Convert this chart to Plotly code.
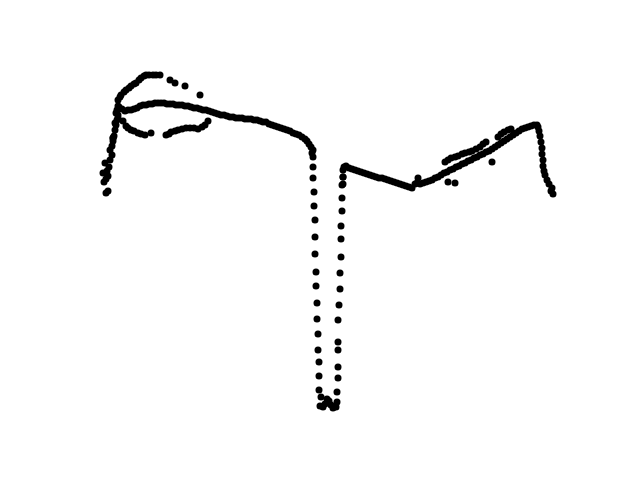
import plotly.graph_objects as go

tail_x = [106, 108, 104, 106, 108, 103, 107, 109, 105, 110, 112, 110, 112, 113, 113, 114, 115, 116, 117, 118, 117, 118]
tail_y = [193, 191, 182, 179, 176, 173, 171, 167, 163, 160, 155, 150, 146, 141, 138, 136, 130, 125, 120, 115, 110, 106]

upper_arc_x = [118, 120, 121, 124, 126, 129, 131, 134, 136, 139, 141, 144, 146, 149, 153, 156, 160, 170, 175, 185, 200]
upper_arc_y = [100, 97, 95, 92, 90, 88, 86, 84, 83, 80, 78, 76, 75, 75, 75, 75, 75, 80, 83, 86, 95]

main_left_x = [119, 122, 125, 128, 131, 134, 137, 140, 143, 146, 149, 152, 155, 158, 161, 164, 167, 170, 173, 176,
               179, 182, 185, 188, 191, 194, 197, 200, 203, 206, 209, 212, 215, 218, 221, 224, 227, 230, 233, 236,
               239, 242, 245, 248, 251, 254, 257, 260, 263, 266, 269, 272, 275, 278, 281, 284, 287, 290, 293, 296,
               299, 302, 305, 307, 309, 311, 313, 312, 313]
main_left_y = [107, 109, 111, 110, 110, 109, 108, 106, 105, 105, 104, 104, 103, 103, 103, 103, 104, 104, 104, 105,
               105, 105, 106, 106, 107, 108, 108, 109, 110, 110, 111, 112, 113, 114, 115, 115, 116, 117, 117, 118,
               118, 118, 119, 119, 119, 120, 120, 121, 122, 122, 124, 125, 126, 127, 128, 129, 130, 131, 133, 134,
               135, 137, 139, 141, 144, 147, 150, 153, 157]

lower_arc_x = [116, 118, 115, 123, 126, 128, 131, 134, 138, 141, 145, 151, 166, 169, 171, 175, 178, 182, 186, 190,
               194, 198, 202, 205, 208]
lower_arc_y = [113, 118, 123, 121, 126, 128, 130, 131, 133, 134, 135, 133, 135, 134, 132, 131, 130, 129, 128, 128,
               128, 129, 127, 125, 121]

drop_x = [313, 313, 314, 314, 315, 315, 315, 316, 316, 317, 317, 318, 318, 319, 319, 319, 321, 320, 323, 325,
          327, 329, 331, 333, 336, 337, 337, 338, 338, 338, 338, 338, 339, 340, 340, 341, 341, 341, 342, 342,
          343, 343, 343, 344]
drop_y = [167, 178, 192, 206, 220, 237, 254, 272, 286, 303, 319, 334, 350, 362, 376, 390, 397, 406, 407, 404,
          399, 401, 405, 408, 407, 402, 392, 378, 367, 350, 342, 320, 305, 289, 273, 257, 239, 226, 211, 198,
          184, 177, 170, 167]

main_right_x = [346, 349, 352, 355, 358, 361, 364, 367, 370, 373, 376, 379, 382, 385, 388, 391, 394, 397, 400, 403,
                406, 409, 412, 415, 417, 418, 420, 423, 426, 429, 432, 435, 438, 441, 444, 447, 450, 453, 456, 459,
                462, 465, 468, 471, 474, 477, 480, 483, 486, 489, 492, 495, 498, 501, 504, 507, 510, 513, 516, 519,
                522, 525, 528, 531, 534, 537, 538, 539, 540, 541, 542, 542, 543, 543, 544, 545, 547, 549, 552, 551, 553]
main_right_y = [166, 168, 169, 170, 171, 172, 173, 174, 175, 176, 177, 178, 178, 179, 180, 181, 182, 183, 184, 185,
                186, 187, 188, 184, 183, 178, 184, 183, 182, 181, 180, 178, 177, 175, 173, 172, 170, 169, 167, 166,
                164, 163, 161, 160, 158, 157, 155, 154, 152, 151, 149, 147, 145, 143, 141, 139, 137, 135, 133, 131,
                129, 128, 127, 126, 125, 125, 127, 131, 136, 142, 148, 154, 160, 166, 171, 175, 180, 184, 188, 191, 194]

upper_branch_x = [445, 448, 451, 455, 458, 462, 465, 469, 472, 476, 480, 483, 486, 498, 501, 504, 508, 511,
                  448, 455, 492, 343, 342, 113]
upper_branch_y = [162, 160, 158, 157, 156, 154, 153, 152, 151, 149, 147, 144, 142, 137, 134, 132, 130, 129,
                  182, 183, 162, 177, 185, 138]

xs = tail_x + upper_arc_x + main_left_x + lower_arc_x + drop_x + main_right_x + upper_branch_x
ys = tail_y + upper_arc_y + main_left_y + lower_arc_y + drop_y + main_right_y + upper_branch_y

fig = go.Figure(go.Scatter(
    x=xs, y=ys, mode="markers",
    marker=dict(size=7, color="black", line=dict(width=0)),
    hoverinfo="skip"
))

fig.update_layout(
    width=640, height=480,
    margin=dict(l=0, r=0, t=0, b=0),
    paper_bgcolor="white", plot_bgcolor="white",
    showlegend=False
)
# the page adds an 8px body margin, so shift the ranges to line up
fig.update_xaxes(range=[8, 648], visible=False)
fig.update_yaxes(range=[488, 8], visible=False)

fig.write_html("out.html")
